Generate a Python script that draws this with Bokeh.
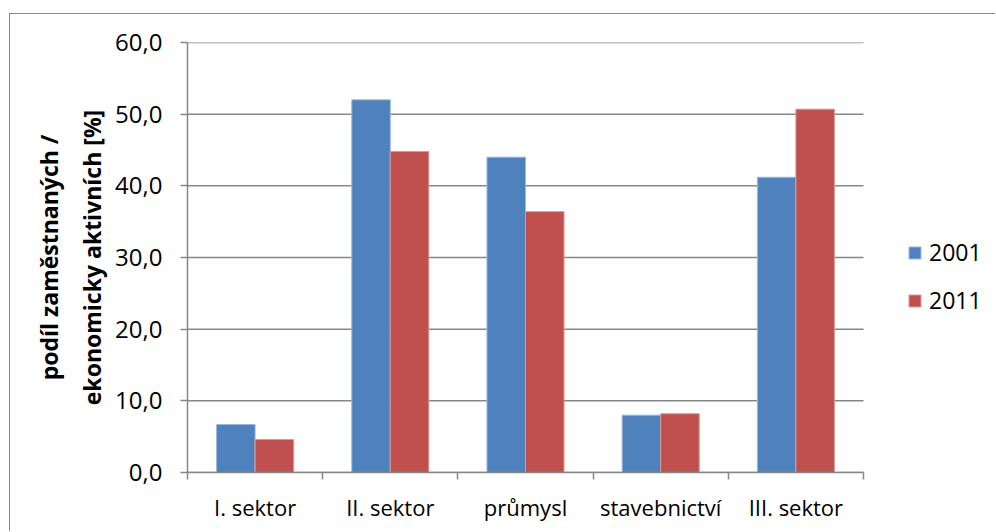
from bokeh.plotting import figure
from bokeh.models import (ColumnDataSource, Range1d, FixedTicker, CustomJSTickFormatter,
                          Legend, LegendItem)
from bokeh.transform import dodge
from bokeh.embed import file_html
from bokeh.resources import INLINE

categories = ["I. sektor", "II. sektor", "průmysl", "stavebnictví", "III. sektor"]
years = ["2001", "2011"]
values_2001 = [6.7, 52.0, 44.0, 8.0, 41.2]
values_2011 = [4.6, 44.8, 36.4, 8.2, 50.7]
y_ticks = [0, 10, 20, 30, 40, 50, 60]
colors = ["#4F81BD", "#C0504D"]
outline_colors = ["#9FB8DA", "#D99A98"]

FONT = "Open Sans"
GRAY = "#878787"

n = len(categories)
pos = [i + 0.5 for i in range(n)]
src = ColumnDataSource(dict(x=pos, cat=categories, v2001=values_2001, v2011=values_2011))
grid_src = ColumnDataSource(dict(y=y_ticks, x0=[0] * len(y_ticks), x1=[n] * len(y_ticks)))

W, H = 986, 518
LEFT, RIGHT, TOP, FRAME_H = 177, 0, 28, 430
BOTTOM = H - TOP - FRAME_H
CAT_PX = 676  # width of the category area in pixels
frame_w = W - LEFT - RIGHT
x_end = n * frame_w / CAT_PX  # extra room on the right holds the legend

p = figure(width=W, height=H,
           x_range=Range1d(0, x_end), y_range=Range1d(0, 60),
           output_backend="svg", toolbar_location=None,
           min_border_left=LEFT, min_border_right=RIGHT, min_border_top=TOP, min_border_bottom=BOTTOM,
           styles={"border-style": "solid none none solid", "border-width": "1px 0px 0px 1px",
                   "border-color": "#898989",
                   "margin-left": "9px", "margin-top": "13px"})
p.outline_line_color = None
p.background_fill_alpha = 0
p.border_fill_alpha = 0

# horizontal gridlines limited to category area
p.xgrid.grid_line_color = None
p.ygrid.grid_line_color = None
p.segment(x0="x0", x1="x1", y0="y", y1="y", source=grid_src, line_color=GRAY, line_width=1.5)

bw = 0.285
r1 = p.vbar(x=dodge("x", -bw / 2, range=p.x_range), top="v2001", width=bw, bottom=0,
            source=src, fill_color=colors[0], line_color=outline_colors[0], line_width=1)
r2 = p.vbar(x=dodge("x", bw / 2, range=p.x_range), top="v2011", width=bw, bottom=0,
            source=src, fill_color=colors[1], line_color=outline_colors[1], line_width=1)

xa = p.xaxis[0]
xa.bounds = (0, n)
xa.ticker = FixedTicker(ticks=pos, minor_ticks=list(range(n + 1)))
xa.formatter = CustomJSTickFormatter(args=dict(cats=categories),
                                     code="return cats[Math.floor(tick)] || '';")
xa.major_tick_line_color = None
xa.minor_tick_line_color = GRAY
xa.minor_tick_out = 7
xa.minor_tick_in = 0
xa.minor_tick_line_width = 1.5
xa.axis_line_color = GRAY
xa.axis_line_width = 1.5
xa.major_label_text_font = FONT
xa.major_label_text_font_size = "22px"
xa.major_label_text_color = "black"
xa.major_label_standoff = 12

ya = p.yaxis[0]
ya.ticker = FixedTicker(ticks=y_ticks, minor_ticks=[])
ya.formatter = CustomJSTickFormatter(code="return tick.toFixed(1).replace('.', ',');")
ya.major_tick_line_color = GRAY
ya.major_tick_out = 7
ya.major_tick_in = 0
ya.major_tick_line_width = 1.5
ya.axis_line_color = GRAY
ya.axis_line_width = 1.5
ya.major_label_text_font = FONT
ya.major_label_text_font_size = "24px"
ya.major_label_text_color = "black"
ya.major_label_standoff = 18
ya.axis_label = "podíl zaměstnaných /\nekonomicky aktivních [%]"
ya.axis_label_text_font = FONT
ya.axis_label_text_font_style = "bold"
ya.axis_label_text_font_size = "23px"
ya.axis_label_text_color = "black"
ya.axis_label_text_line_height = 1.35
ya.axis_label_standoff = 4

legend = Legend(items=[LegendItem(label=years[0], renderers=[r1]),
                       LegendItem(label=years[1], renderers=[r2])],
                location=(720, 156), orientation="vertical",
                glyph_width=15, glyph_height=15, label_height=20, label_standoff=7,
                spacing=16, padding=0, margin=0, border_line_color=None,
                background_fill_alpha=0,
                label_text_font=FONT, label_text_font_size="23px", label_text_color="black")
p.add_layout(legend)

open("out.html", "w").write(file_html(p, INLINE))
